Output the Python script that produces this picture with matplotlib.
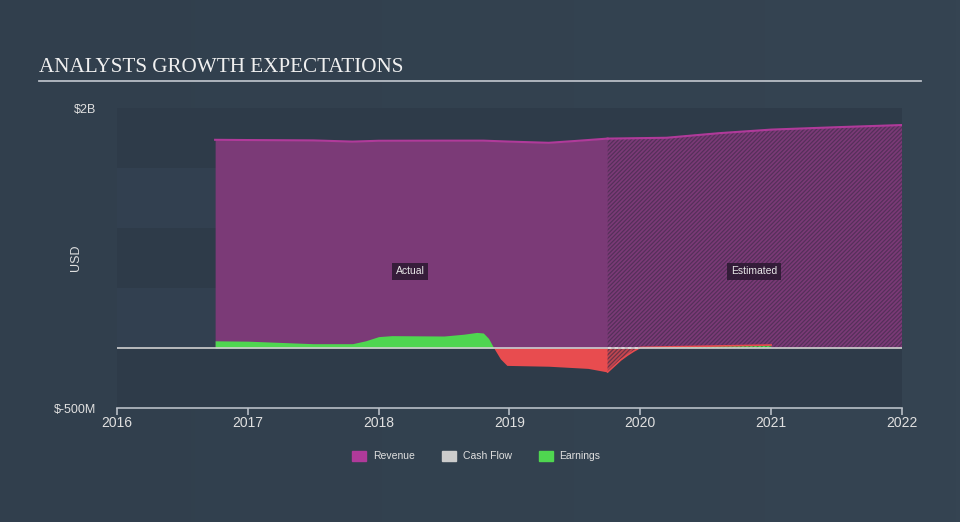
import numpy as np
import matplotlib
matplotlib.use('Agg')
import matplotlib.pyplot as plt
from matplotlib.patches import Patch

# revenue (USD billions)
rev_act_x = [2016.75, 2017.0, 2017.5, 2017.8, 2018.0, 2018.5, 2018.8, 2019.0, 2019.3, 2019.5, 2019.75]
rev_act_y = [1.735, 1.733, 1.730, 1.720, 1.727, 1.728, 1.728, 1.720, 1.710, 1.725, 1.745]
rev_est_x = [2019.75, 2020.2, 2020.6, 2021.0, 2021.5, 2022.0]
rev_est_y = [1.745, 1.752, 1.790, 1.820, 1.840, 1.858]

# earnings (USD billions)
earn_act_x = [2016.75, 2017.0, 2017.5, 2017.8, 2017.9, 2018.0, 2018.1, 2018.5, 2018.65, 2018.75, 2018.8,
              2018.84, 2018.88, 2018.93, 2018.98, 2019.3, 2019.6, 2019.75]
earn_act_y = [0.060, 0.057, 0.036, 0.036, 0.060, 0.095, 0.103, 0.100, 0.115, 0.130, 0.125,
              0.080, 0.0, -0.090, -0.145, -0.152, -0.170, -0.200]
earn_est_x = [2019.75, 2019.8, 2019.85, 2019.9, 2019.95, 2020.0, 2020.5, 2021.0]
earn_est_y = [-0.200, -0.150, -0.100, -0.060, -0.025, 0.005, 0.015, 0.025]

# cash flow (estimated only)
cf_est_x = [2019.75, 2020.0]
cf_est_y = [0.0, 0.0]

REV_FILL = '#7b3a77'
REV_LINE = '#b03a9a'
GREEN = '#4fd650'
RED = '#e84c4f'
HATCH = '#55305a'

plt.rcParams['hatch.linewidth'] = 0.9
fig = plt.figure(figsize=(9.6, 5.22), dpi=100)

# background gradient
bg = fig.add_axes([0, 0, 1, 1], zorder=-10)
grad = np.linspace(0, 1, 256).reshape(1, -1)
bg.imshow(grad, aspect='auto', cmap=matplotlib.colors.LinearSegmentedColormap.from_list('bg', ['#313f4d', '#354452']),
          extent=[0, 1, 0, 1])
bg.axis('off')

ax = fig.add_axes([117/960, 1-408/522, (902-117)/960, 300/522])
ax.set_facecolor('none')
ax.set_xlim(2016, 2022)
ax.set_ylim(-0.5, 2.0)

# bands
for lo, hi, c in [(1.5, 2.0, '#2e3b49'), (1.0, 1.5, '#324050'), (0.5, 1.0, '#2e3b49'),
                  (0.0, 0.5, '#324050'), (-0.5, 0.0, '#2e3b49')]:
    ax.axhspan(lo, hi, color=c, lw=0, zorder=0)

# revenue
ax.fill_between(rev_act_x, 0, rev_act_y, color=REV_FILL, lw=0, zorder=1)
ax.plot(rev_act_x, rev_act_y, color=REV_LINE, lw=1.5, zorder=3)
ax.fill_between(rev_est_x, 0, rev_est_y, facecolor=REV_FILL, edgecolor=HATCH, hatch='////////', lw=0, zorder=1)
ax.plot(rev_est_x, rev_est_y, color=REV_LINE, lw=1.5, zorder=3)

# earnings
ea = np.array(earn_act_y)
ax.fill_between(earn_act_x, 0, earn_act_y, where=ea >= 0, interpolate=True, color=GREEN, lw=0, zorder=2)
ax.fill_between(earn_act_x, 0, earn_act_y, where=ea <= 0, interpolate=True, color=RED, lw=0, zorder=2)
ee = np.array(earn_est_y)
ax.fill_between(earn_est_x, 0, earn_est_y, where=ee <= 0, interpolate=True, facecolor='#c04650', edgecolor='#6a3448',
                hatch='////////', lw=0, zorder=2)
ax.fill_between(earn_est_x, 0, earn_est_y, where=ee >= 0, interpolate=True, facecolor=GREEN, edgecolor='#3a8a3a',
                hatch='////////', lw=0, zorder=2)
ax.plot(earn_est_x, earn_est_y, color=RED, lw=1.2, zorder=3)

# cash flow
ax.plot(cf_est_x, cf_est_y, color='#dddddd', lw=1.2, ls=(0, (2, 2)), zorder=4)

# zero line
ax.axhline(0, color='#d0d0d0', lw=1.2, zorder=3)

for x, y, s in [(2018.24, 0.64, 'Actual'), (2020.87, 0.64, 'Estimated')]:
    ax.text(x, y, s, color='#e8e8e8', fontsize=7.5, ha='center', va='center', family='Liberation Sans', zorder=5,
            bbox=dict(boxstyle='square,pad=0.35', fc='#2a1830', ec='none', alpha=0.85))

for s in ['top', 'right', 'left']:
    ax.spines[s].set_visible(False)
ax.spines['bottom'].set_color('#b8bec6')
ax.spines['bottom'].set_linewidth(1.2)
ax.set_xticks([2016, 2017, 2018, 2019, 2020, 2021, 2022])
ax.set_xticklabels(['2016', '2017', '2018', '2019', '2020', '2021', '2022'])
ax.tick_params(axis='x', colors='#b8bec6', labelcolor='#e0e0e0', labelsize=10, length=5, width=1.2, pad=1)
ax.set_yticks([2.0, -0.5])
ax.set_yticklabels(['$2B', '$-500M'])
ax.tick_params(axis='y', length=0, labelcolor='#e0e0e0', labelsize=9, pad=15)
for lab in ax.get_xticklabels() + ax.get_yticklabels():
    lab.set_family('Liberation Sans')
ax.set_ylabel('USD', color='#e0e0e0', fontsize=9, family='Liberation Sans', labelpad=4)
ax.yaxis.set_label_coords(-0.044, 0.5)

# title
fig.text(39/960, 1-67/522, 'ANALYSTS GROWTH EXPECTATIONS', color='#f0f0f0', fontsize=15.2,
         family='Liberation Serif', va='center', ha='left')
fig.add_artist(plt.Line2D([39/960, 921/960], [1-81/522, 1-81/522], color='#b8bec6', lw=1.3))

handles = [Patch(color='#b03a9a', label='Revenue'), Patch(color='#cccccc', label='Cash Flow'),
           Patch(color=GREEN, label='Earnings')]
leg = fig.legend(handles=handles, loc='center', bbox_to_anchor=(0.496, 1-456/522), ncol=3, frameon=False,
                 handlelength=1.4, handleheight=1.2, columnspacing=2.6, handletextpad=0.6,
                 prop={'family': 'Liberation Sans', 'size': 7.5})
for t in leg.get_texts():
    t.set_color('#e0e0e0')

fig.savefig('out.png', dpi=100, facecolor='#334150')
